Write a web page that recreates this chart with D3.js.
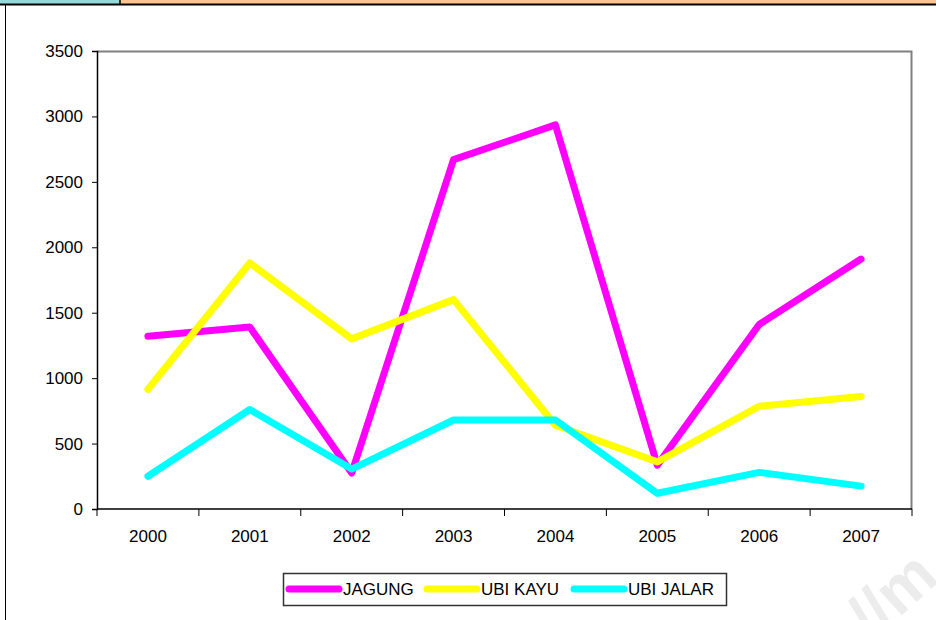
<!DOCTYPE html>
<html>
<head>
<meta charset="utf-8">
<script src="https://cdn.jsdelivr.net/npm/d3@7"></script>
<style>
  body { margin: 0; background: #fff; }
  svg { display: block; font-family: "Liberation Sans", Arial, sans-serif; }
</style>
</head>
<body>
<div id="chart"></div>
<script>
const years = ['2000', '2001', '2002', '2003', '2004', '2005', '2006', '2007'];
const jagung = [1320, 1390, 275, 2670, 2935, 335, 1410, 1910];
const ubiKayu = [915, 1880, 1300, 1600, 640, 360, 785, 860];
const ubiJalar = [250, 760, 305, 680, 680, 120, 280, 175];
const yTicks = [0, 500, 1000, 1500, 2000, 2500, 3000, 3500];

const series = [
    { name: 'JAGUNG', values: jagung, color: '#ff00ff' },
    { name: 'UBI KAYU', values: ubiKayu, color: '#ffff00' },
    { name: 'UBI JALAR', values: ubiJalar, color: '#00ffff' }
];

const width = 936, height = 620;
const margin = { top: 51, right: 24, bottom: 111, left: 97 };
const chartWidth = width - margin.left - margin.right;
const chartHeight = height - margin.top - margin.bottom;

const svg = d3.select('#chart').append('svg')
    .attr('width', width)
    .attr('height', height);

// header strip
svg.append('rect').attr('x', 0).attr('y', 0).attr('width', 120).attr('height', 4).attr('fill', '#93d9d9');
svg.append('rect').attr('x', 120).attr('y', 0).attr('width', width - 120).attr('height', 4).attr('fill', '#fcc590');
svg.append('line').attr('x1', 0).attr('x2', width).attr('y1', 4.5).attr('y2', 4.5).attr('stroke', '#000').attr('stroke-width', 2);
svg.append('line').attr('x1', 120).attr('x2', 120).attr('y1', 0).attr('y2', 4).attr('stroke', '#000').attr('stroke-width', 1.5);
svg.append('line').attr('x1', 5.5).attr('x2', 5.5).attr('y1', 4).attr('y2', height).attr('stroke', '#000').attr('stroke-width', 1);

// watermark (cut off at the corner, as in the source)
svg.append('text')
    .attr('transform', 'translate(872,642) rotate(-42)')
    .attr('font-size', 64)
    .attr('font-weight', 'bold')
    .attr('fill', '#ececec')
    .text('//m');

const g = svg.append('g').attr('transform', `translate(${margin.left},${margin.top})`);

const x = d3.scaleBand().domain(years).range([0, chartWidth]);
const y = d3.scaleLinear().domain([0, 3500]).range([chartHeight, 0]);

// plot frame (top and right in gray)
g.append('path')
    .attr('d', `M0,0.5H${chartWidth - 0.5}V${chartHeight}`)
    .attr('fill', 'none')
    .attr('stroke', '#808080')
    .attr('stroke-width', 2);

const yAxis = d3.axisLeft(y).tickValues(yTicks).tickFormat(d3.format('d')).tickSize(5).tickPadding(9);
const yg = g.append('g').call(yAxis).attr('font-family', null).attr('font-size', 17);
yg.select('.domain').attr('stroke-width', 1.5);
yg.selectAll('text').attr('fill', '#000');

// x axis with ticks at category boundaries
const xg = g.append('g').attr('transform', `translate(0,${chartHeight})`);
xg.append('line').attr('x1', 0).attr('x2', chartWidth).attr('stroke', '#000').attr('stroke-width', 1.5);
const bounds = years.map(d => x(d)).concat([chartWidth]);
xg.selectAll('.tk').data(bounds).enter().append('line')
    .attr('x1', d => d).attr('x2', d => d)
    .attr('y1', 0).attr('y2', 7)
    .attr('stroke', '#000');
xg.selectAll('.lbl').data(years).enter().append('text')
    .attr('x', d => x(d) + x.bandwidth() / 2)
    .attr('y', 33)
    .attr('text-anchor', 'middle')
    .attr('font-size', 17)
    .text(d => d);

const line = d3.line()
    .x((d, i) => x(years[i]) + x.bandwidth() / 2)
    .y(d => y(d));

series.forEach(s => {
    g.append('path')
        .datum(s.values)
        .attr('fill', 'none')
        .attr('stroke', s.color)
        .attr('stroke-width', 7)
        .attr('stroke-linejoin', 'round')
        .attr('stroke-linecap', 'round')
        .attr('d', line);
});

// legend
const legend = svg.append('g').attr('transform', 'translate(283,573)');
legend.append('rect')
    .attr('x', 0.5).attr('y', 0.5)
    .attr('width', 443).attr('height', 32)
    .attr('fill', '#fff')
    .attr('stroke', '#333')
    .attr('stroke-width', 1.5);
const legendX = [4, 142, 289];
series.forEach((s, i) => {
    const lg = legend.append('g').attr('transform', `translate(${legendX[i]},16)`);
    lg.append('line')
        .attr('x1', 2).attr('x2', 52)
        .attr('stroke', s.color)
        .attr('stroke-width', 7)
        .attr('stroke-linecap', 'round');
    lg.append('text')
        .attr('x', 56)
        .attr('y', 6)
        .attr('font-size', 17)
        .text(s.name);
});
</script>
</body>
</html>
